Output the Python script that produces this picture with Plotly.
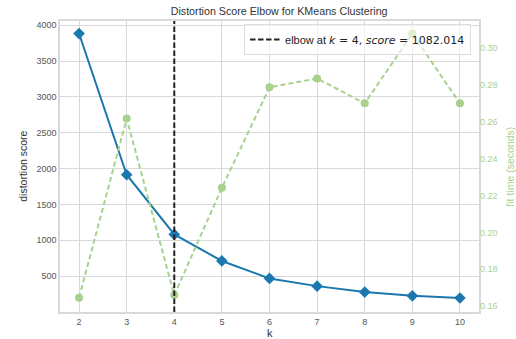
import plotly.graph_objects as go

k_values = [2, 3, 4, 5, 6, 7, 8, 9, 10]
distortion = [3885, 1915, 1082.014, 712, 468, 361, 278, 226, 195]
fit_time = [0.1645, 0.2618, 0.1660, 0.2242, 0.2788, 0.2836, 0.2701, 0.3079, 0.2701]
elbow_k = 4
elbow_score = 1082.014
x_ticks = [2, 3, 4, 5, 6, 7, 8, 9, 10]
y_ticks = [500, 1000, 1500, 2000, 2500, 3000, 3500, 4000]
y2_ticks = [0.16, 0.18, 0.20, 0.22, 0.24, 0.26, 0.28, 0.30]

BLUE = "#1a78ae"
GREEN = "#a9d18e"
GRID = "#d9d9d9"
TXT = "#555555"
FONT = "Liberation Sans, Arial, sans-serif"

fig = go.Figure()

fig.add_trace(go.Scatter(
    x=k_values, y=distortion, mode="lines+markers",
    line=dict(color=BLUE, width=2),
    marker=dict(symbol="diamond", size=9, color=BLUE),
    showlegend=False, yaxis="y",
))
fig.add_trace(go.Scatter(
    x=k_values, y=fit_time, mode="lines+markers",
    line=dict(color=GREEN, width=2, dash="5px,3px"),
    marker=dict(symbol="circle", size=8, color=GREEN),
    showlegend=False, yaxis="y2",
))
label = ('elbow at <span style="font-family:DejaVu Sans"><i>k</i> = %d, <i>score</i> = %.3f</span>'
         % (elbow_k, elbow_score))
fig.add_trace(go.Scatter(
    x=[None], y=[None], mode="lines",
    line=dict(color="#222222", width=2, dash="5.5px,2.5px"),
    name=label, showlegend=True,
))
fig.add_shape(type="line", xref="x", yref="paper", x0=elbow_k, x1=elbow_k, y0=0, y1=1,
              line=dict(color="#222222", width=2, dash="5.5px,2.5px"))

# axis titles as annotations (exact placement)
fig.add_annotation(text="k", xref="paper", yref="paper", x=0.5, y=-0.072, yanchor="middle",
                   showarrow=False, font=dict(size=11, color="#333333"))
fig.add_annotation(text="distortion score", xref="paper", yref="paper", x=-0.09, y=0.5,
                   xanchor="center", yanchor="middle", textangle=-90,
                   showarrow=False, font=dict(size=10.5, color="#333333"))
fig.add_annotation(text="fit time (seconds)", xref="paper", yref="paper", x=1.072, y=0.5,
                   xanchor="center", yanchor="middle", textangle=-90,
                   showarrow=False, font=dict(size=10.5, color=GREEN))

fig.update_layout(
    width=516, height=339,
    margin=dict(l=60, r=37, t=21, b=27, autoexpand=False),
    paper_bgcolor="white", plot_bgcolor="white",
    font=dict(family=FONT, size=9, color=TXT),
    hovermode=False,
    title=dict(text="Distortion Score Elbow for KMeans Clustering", x=0.523, xanchor="center",
               xref="paper", y=0.967, yref="container", yanchor="middle",
               font=dict(size=10.7, color="#333333"), automargin=False),
    xaxis=dict(range=[1.6, 10.4], tickvals=x_ticks, showgrid=True, gridcolor=GRID, gridwidth=1.2,
               zeroline=False, showline=True, linecolor=GRID, linewidth=1.5, mirror=True,
               ticks="", automargin=False, tickfont=dict(size=9, color=TXT)),
    yaxis=dict(range=[0, 4060], tickvals=y_ticks, showgrid=True, gridcolor=GRID, gridwidth=1.2,
               zeroline=False, showline=True, linecolor=GRID, linewidth=1.5, mirror=True,
               ticks="", automargin=False, tickfont=dict(size=9, color=TXT)),
    yaxis2=dict(range=[0.1568, 0.3148], tickvals=y2_ticks, tickformat=".2f", overlaying="y", side="right",
                showgrid=False, zeroline=False, ticks="", automargin=False,
                tickfont=dict(size=9, color=GREEN)),
    legend=dict(x=0.981, y=0.99, xanchor="right", yanchor="top", bgcolor="rgba(255,255,255,0.6)",
                bordercolor="#dddddd", borderwidth=1, font=dict(size=11, color="#222222"),
                itemwidth=30),
)

fig.write_html("out.html", config={"displayModeBar": False},
               post_script="document.body.style.margin='0';")
